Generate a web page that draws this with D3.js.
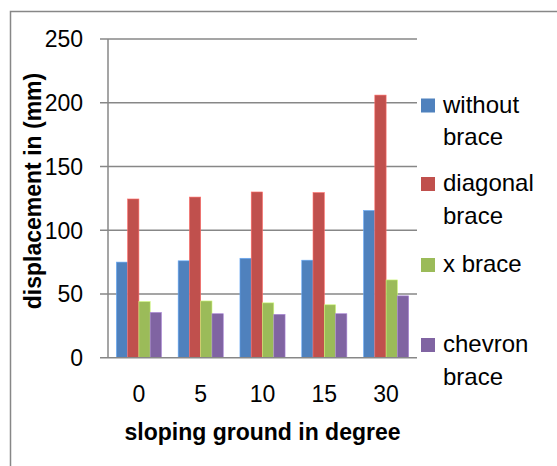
<!DOCTYPE html>
<html>
<head>
<meta charset="utf-8">
<script src="https://cdn.jsdelivr.net/npm/d3@7"></script>
<style>
  html, body { margin: 0; padding: 0; background: #fff; }
  svg { display: block; font-family: "Liberation Sans", Arial, sans-serif; }
</style>
</head>
<body>
<svg id="chart" width="557" height="466"></svg>
<script>
// Slope angles (degrees) on the x axis
const categories = ["0", "5", "10", "15", "30"];

// Displacement (mm) per bracing type
const seriesNames = ["without brace", "diagonal brace", "x brace", "chevron brace"];
const withoutBrace = [75, 76, 78, 76.5, 115.5];
const diagonalBrace = [124.5, 126, 130, 129.5, 206];
const xBrace = [44, 44.5, 43, 41.5, 61];
const chevronBrace = [35.5, 34.5, 34, 34.5, 48.5];
const seriesValues = [withoutBrace, diagonalBrace, xBrace, chevronBrace];

const yTicks = [0, 50, 100, 150, 200, 250];
const colors = ["#4F81BD", "#C0504D", "#9BBB59", "#8064A2"];
const legendLines = [["without", "brace"], ["diagonal", "brace"], ["x brace"], ["chevron", "brace"]];

const svg = d3.select("#chart");
const gridColor = "#878787";

// Outer chart frame (right and bottom edges run past the canvas)
svg.append("rect")
  .attr("x", 10.5).attr("y", 11.5)
  .attr("width", 600).attr("height", 500)
  .attr("fill", "none").attr("stroke", gridColor).attr("stroke-width", 1.5);

const plot = { left: 108, right: 417, top: 39, bottom: 357.7 };

const x0 = d3.scaleBand().domain(categories).range([plot.left, plot.right]);
const bw = x0.bandwidth();
const x1 = d3.scaleBand().domain(d3.range(seriesNames.length))
  .range([bw * 0.135, bw * 0.865]);
const y = d3.scaleLinear().domain([0, 250]).range([plot.bottom, plot.top]);

// Horizontal gridlines with short outward ticks
svg.append("g").selectAll("line").data(yTicks.filter(d => d > 0)).join("line")
  .attr("x1", plot.left - 8).attr("x2", plot.right)
  .attr("y1", d => y(d)).attr("y2", d => y(d))
  .attr("stroke", gridColor).attr("stroke-width", 1.5);

// Bars
const groups = svg.append("g").selectAll("g").data(categories).join("g")
  .attr("transform", c => `translate(${x0(c)},0)`);
groups.selectAll("rect")
  .data((c, i) => seriesValues.map((vals, s) => ({ s, v: vals[i] })))
  .join("rect")
  .attr("x", d => x1(d.s))
  .attr("width", x1.bandwidth())
  .attr("y", d => y(d.v))
  .attr("height", d => y(0) - y(d.v))
  .attr("fill", d => colors[d.s])
  .attr("stroke", d => d3.color(colors[d.s]).brighter(0.8))
  .attr("stroke-width", 0.6);

// Axis lines
svg.append("line")
  .attr("x1", plot.left).attr("x2", plot.left)
  .attr("y1", plot.top).attr("y2", plot.bottom)
  .attr("stroke", gridColor).attr("stroke-width", 1.5);
svg.append("line")
  .attr("x1", plot.left - 8).attr("x2", plot.right)
  .attr("y1", plot.bottom).attr("y2", plot.bottom)
  .attr("stroke", gridColor).attr("stroke-width", 1.5);

// Y tick labels
svg.append("g").selectAll("text").data(yTicks).join("text")
  .attr("x", 83).attr("y", d => y(d))
  .attr("dy", "0.36em")
  .attr("text-anchor", "end")
  .attr("font-size", 23).attr("fill", "#000")
  .text(d => d);

// X tick labels
svg.append("g").selectAll("text").data(categories).join("text")
  .attr("x", c => x0(c) + bw / 2).attr("y", 401.5)
  .attr("text-anchor", "middle")
  .attr("font-size", 23).attr("fill", "#000")
  .text(c => c);

// Axis titles
svg.append("text")
  .attr("x", (plot.left + plot.right) / 2).attr("y", 440)
  .attr("text-anchor", "middle")
  .attr("font-size", 23).attr("font-weight", "bold")
  .text("sloping ground in degree");

svg.append("text")
  .attr("transform", "translate(41,191) rotate(-90)")
  .attr("text-anchor", "middle")
  .attr("font-size", 23).attr("font-weight", "bold")
  .text("displacement in (mm)");

// Legend
const legendTops = [98.5, 177, 258, 338];
const legend = svg.append("g").selectAll("g").data(seriesNames).join("g")
  .attr("transform", (d, i) => `translate(421,${legendTops[i]})`);
legend.append("rect")
  .attr("width", 14).attr("height", 14)
  .attr("fill", (d, i) => colors[i]);
legend.append("text")
  .attr("font-size", 24).attr("fill", "#000")
  .selectAll("tspan").data((d, i) => legendLines[i]).join("tspan")
  .attr("x", 22).attr("y", (d, j) => 14 + j * 32.5)
  .text(d => d);
</script>
</body>
</html>
